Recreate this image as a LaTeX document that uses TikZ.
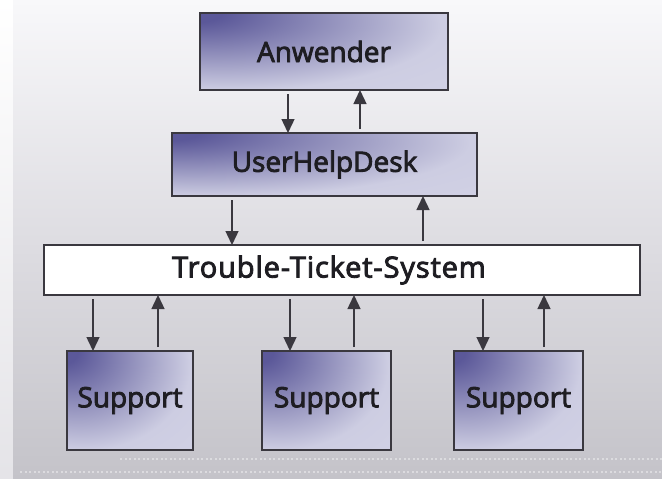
\documentclass[tikz,border=0pt]{standalone}
\usepackage{fontspec}
\setmainfont{Open Sans}
\newfontfamily\labelfont[FakeBold=3]{Open Sans}
\usetikzlibrary{arrows.meta}

\definecolor{inkline}{HTML}{3A383F}
\definecolor{textink}{HTML}{1E1D22}
\definecolor{shadeA}{HTML}{5B5899}
\definecolor{shadeB}{HTML}{CDCDE2}
\definecolor{shadeC}{HTML}{E2E2EE}
\definecolor{panelTop}{HTML}{F8F8FA}
\definecolor{panelMid}{HTML}{DEDDE2}
\definecolor{panelBot}{HTML}{C4C3C9}

% violet glow in the upper left corner of each box
\pgfdeclareradialshading{boxshade}{\pgfpoint{-28bp}{26bp}}{%
  color(0bp)=(shadeA); color(6bp)=(shadeA); color(42bp)=(shadeB); color(120bp)=(shadeC)}

\begin{document}
\begin{tikzpicture}[x=1pt,y=-1pt,
  labeltext/.style={text=textink, font=\labelfont\fontsize{28}{32}\selectfont},
  box/.style={draw=inkline, line width=1.3pt, inner sep=0pt, outer sep=0pt, labeltext},
  violetbox/.style={box, shading=boxshade},
  arr/.style={draw=inkline, line width=1.4pt, shorten <=4pt,
    -{Triangle[width=13pt,length=14pt]}},
  dotline/.style={draw=white, opacity=0.4, line width=1.5pt, dash pattern=on 2pt off 2.5pt}]

% background
\useasboundingbox (0,0) rectangle (662,479);
\shade[top color=white, bottom color=panelMid!80!white] (0,0) rectangle (13,479);
\shade[top color=panelTop, bottom color=panelBot, middle color=panelMid] (13,0) rectangle (662,479);
\draw[dotline] (120,459) -- (662,459);
\draw[dotline] (20,472) -- (662,472);

% boxes
\node[violetbox, minimum width=248, minimum height=77] (anw) at (324,51.5) {Anwender};
\node[violetbox, minimum width=305, minimum height=63] (uhd) at (324.5,164.5) {UserHelpDesk};
\node[box, fill=white, minimum width=596, minimum height=50,
  label={[xshift=-13pt, labeltext, font=\labelfont\fontsize{29}{32}\selectfont\addfontfeature{LetterSpace=3}]center:Trouble-Ticket-System}]
  (tts) at (342,270) {};
\node[violetbox, minimum width=126, minimum height=99] (s1) at (130,400.5) {Support};
\node[violetbox, minimum width=129, minimum height=99] (s2) at (326.5,400.5) {Support};
\node[violetbox, minimum width=129, minimum height=99] (s3) at (518.5,400.5) {Support};

% arrow columns
\coordinate (c1) at (288,0);  \coordinate (c2) at (360,0);
\coordinate (c3) at (232,0);  \coordinate (c4) at (423,0);
\coordinate (c5) at (93,0);   \coordinate (c6) at (158,0);
\coordinate (c7) at (290,0);  \coordinate (c8) at (354,0);
\coordinate (c9) at (483,0);  \coordinate (c10) at (544,0);

\draw[arr] (anw.south -| c1) -- (uhd.north -| c1);
\draw[arr] (uhd.north -| c2) -- (anw.south -| c2);
\draw[arr] (uhd.south -| c3) -- (tts.north -| c3);
\draw[arr] (tts.north -| c4) -- (uhd.south -| c4);
\draw[arr] (tts.south -| c5) -- (s1.north -| c5);
\draw[arr] (s1.north -| c6) -- (tts.south -| c6);
\draw[arr] (tts.south -| c7) -- (s2.north -| c7);
\draw[arr] (s2.north -| c8) -- (tts.south -| c8);
\draw[arr] (tts.south -| c9) -- (s3.north -| c9);
\draw[arr] (s3.north -| c10) -- (tts.south -| c10);
\end{tikzpicture}
\end{document}
